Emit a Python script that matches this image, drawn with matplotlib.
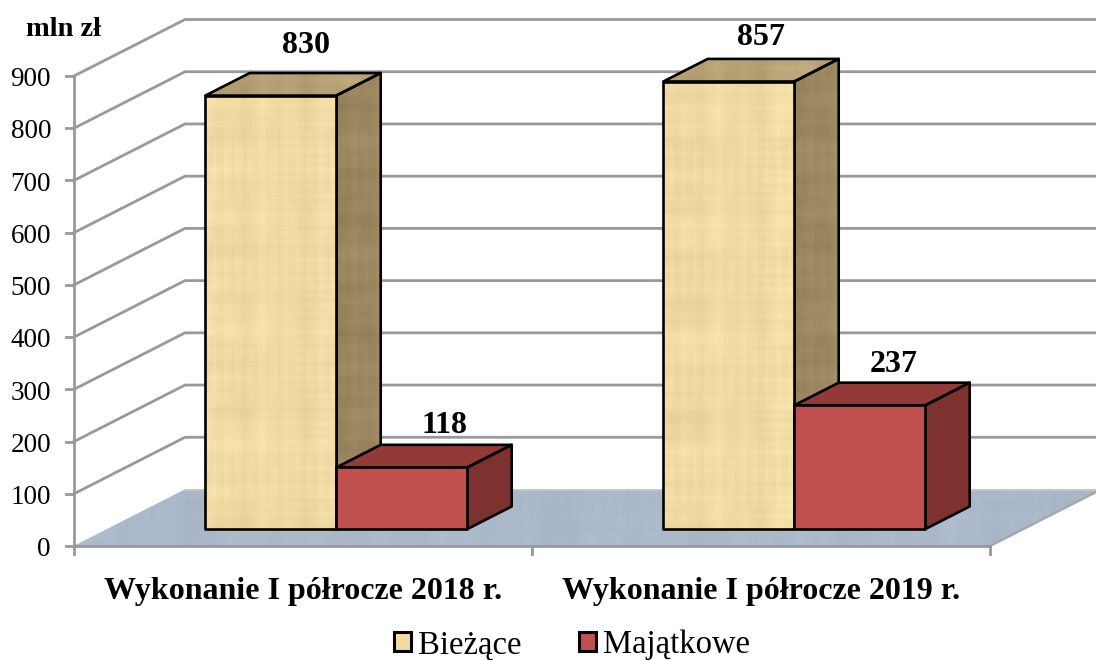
import numpy as np
import matplotlib
matplotlib.use("Agg")
import matplotlib.pyplot as plt
from matplotlib.patches import Polygon, Patch

plt.rcParams["font.family"] = ["Liberation Serif", "DejaVu Serif"]

# data
categories = ["Wykonanie I półrocze 2018 r.", "Wykonanie I półrocze 2019 r."]
series_names = ["Bieżące", "Majątkowe"]
biezace = [830, 857]
majatkowe = [118, 237]
y_ticks = [0, 100, 200, 300, 400, 500, 600, 700, 800, 900]

W, H = 1096, 660
LEFT, RIGHT, TOP, BOTTOM = 74, 990, 76, 546

fig = plt.figure(figsize=(W / 100, H / 100), dpi=100)
ax = fig.add_axes([LEFT / W, 1 - BOTTOM / H, (RIGHT - LEFT) / W, (BOTTOM - TOP) / H])
ax.axis("off")

# oblique depth of the fake 3d box, in data units
DX = 111 / ((RIGHT - LEFT) / 2)
DY = 56.5 / ((BOTTOM - TOP) / 900)
GRID = "#999999"


def project(x, v, d):
    return (x + d * DX, v + d * DY)


def texture(rgb, nx, ny, amount, phase=0.0):
    # papyrus-like streaks built from crossing sines
    xx, yy = np.meshgrid(np.arange(nx), np.arange(ny))
    t = np.zeros((ny, nx))
    for f, a in [(0.53, 1.0), (0.21, 1.3), (0.087, 1.5), (1.13, 0.6), (0.037, 1.2)]:
        t += a * np.sin(f * xx + phase + 1.7 * f) * (0.6 + 0.4 * np.sin(0.061 * yy + f * 9))
        t += 0.7 * a * np.sin(f * 1.31 * yy + phase * 2) * (0.6 + 0.4 * np.sin(0.047 * xx + f * 5))
    t /= np.abs(t).max()
    img = np.array(rgb)[None, None, :] / 255 + amount * t[:, :, None]
    return np.clip(img, 0, 1)


def face(points, rgb, amount=0.0, zorder=3, edge="black", lw=1.9):
    poly = Polygon(points, closed=True, facecolor=np.array(rgb) / 255, edgecolor="none",
                   clip_on=False, zorder=zorder)
    ax.add_patch(poly)
    if amount > 0:
        xs, ys = zip(*points)
        sx = (RIGHT - LEFT) / 2
        sy = (BOTTOM - TOP) / 900
        nx = max(int((max(xs) - min(xs)) * sx), 2)
        ny = max(int((max(ys) - min(ys)) * sy), 2)
        im = ax.imshow(texture(rgb, nx, ny, amount, phase=min(xs) * 7),
                       extent=[min(xs), max(xs), min(ys), max(ys)], origin="lower",
                       aspect="auto", zorder=zorder, interpolation="bilinear")
        im.set_clip_path(poly)
        im.set_clip_box(fig.bbox)
    if edge:
        ax.add_patch(Polygon(points, closed=True, facecolor="none", edgecolor=edge, linewidth=lw,
                             clip_on=False, zorder=zorder + 0.1, joinstyle="round"))


def bar3d(x0, x1, value, front, top, side, amount, zorder):
    d0, d1 = 0.3, 0.7
    face([project(x1, 0, d0), project(x1, 0, d1), project(x1, value, d1), project(x1, value, d0)],
         side, amount, zorder)
    face([project(x0, value, d0), project(x1, value, d0), project(x1, value, d1), project(x0, value, d1)],
         top, amount, zorder)
    face([project(x0, 0, d0), project(x1, 0, d0), project(x1, value, d0), project(x0, value, d0)],
         front, amount, zorder + 0.2)


xmax = len(categories)
xedge = (W - LEFT) / ((RIGHT - LEFT) / 2) - DX  # back wall is cut by the picture edge

# floor
face([project(0, 0, 0), project(xmax, 0, 0), project(xmax, 0, 1), project(0, 0, 1)],
     (170, 184, 201), 0.02, zorder=1, edge=None)
ax.plot(*zip(project(xmax, 0, 0), project(xmax, 0, 1)), color="#a8a8a8", lw=1.8, clip_on=False, zorder=1.5)
ax.plot(*zip(project(0, 0, 1), project(xmax, 0, 1)), color="#c4c8ce", lw=1.2, clip_on=False, zorder=1.5)

# wall grid lines
for v in y_ticks[1:]:
    xs, ys = zip(project(0, v, 0), project(0, v, 1), project(xedge, v, 1))
    ax.plot(xs, ys, color=GRID, lw=2.0, clip_on=False, zorder=2, solid_joinstyle="round")

# axis lines and ticks
tick_h = 8 / ((RIGHT - LEFT) / 2)
tick_v = 8 / ((BOTTOM - TOP) / 900)
ax.plot([0, 0], [0, 900], color=GRID, lw=2.0, clip_on=False, zorder=2.5)
ax.plot([0, xmax], [0, 0], color=GRID, lw=2.0, clip_on=False, zorder=2.5)
for v in y_ticks:
    ax.plot([-tick_h, 0], [v, v], color=GRID, lw=2.0, clip_on=False, zorder=2.5)
    ax.annotate(str(v), xy=(0, v), xytext=(-23 * 0.72, -0.5), textcoords="offset points",
                ha="right", va="center_baseline", fontsize=19.5, annotation_clip=False)
for i in range(xmax + 1):
    ax.plot([i, i], [0, -tick_v], color=GRID, lw=2.0, clip_on=False, zorder=2.5)

# bars
BAR_W = 131 / ((RIGHT - LEFT) / 2)
sand = dict(front=(241, 220, 165), top=(183, 163, 118), side=(156, 137, 97), amount=0.05)
red = dict(front=(192, 80, 77), top=(146, 58, 56), side=(126, 50, 48), amount=0.0)
# label offsets from the front top edge, in pixels
off_b = [(35, 54), (32, 48)]
off_m = [(43, 45), (34, 44)]
for i in range(len(categories)):
    c = i + 0.5
    bar3d(c - BAR_W, c, biezace[i], zorder=3 + i, **sand)
    bar3d(c, c + BAR_W, majatkowe[i], zorder=3.5 + i, **red)
    for x, val, off in [(c - BAR_W / 2, biezace[i], off_b[i]), (c + BAR_W / 2, majatkowe[i], off_m[i])]:
        ax.annotate(str(val), xy=project(x, val, 0.3),
                    xytext=(off[0] * 0.72, off[1] * 0.72), textcoords="offset points",
                    ha="center", va="center_baseline", fontsize=23, fontweight="bold",
                    annotation_clip=False, zorder=10)
    ax.annotate(categories[i], xy=(c, 0), xytext=(0, -42 * 0.72), textcoords="offset points",
                ha="center", va="center_baseline", fontsize=23, fontweight="bold", annotation_clip=False)

fig.text(63.5 / W, 1 - 27 / H, "mln zł", ha="center", va="center_baseline", fontsize=20.5, fontweight="bold")

# legend
handles = [Patch(facecolor=np.array(sand["front"]) / 255, edgecolor="black", linewidth=2.2),
           Patch(facecolor=np.array(red["front"]) / 255, edgecolor="black", linewidth=2.2)]
fig.legend(handles, series_names, loc="center", bbox_to_anchor=(572 / W, 1 - 645 / H), ncol=2, frameon=False,
           fontsize=23.5, handlelength=0.52, handleheight=0.52, handletextpad=0.22, columnspacing=1.75,
           borderpad=0, borderaxespad=0)

ax.set_xlim(0, xmax)
ax.set_ylim(0, 900)

fig.savefig("out.png", dpi=100)
plt.close(fig)
